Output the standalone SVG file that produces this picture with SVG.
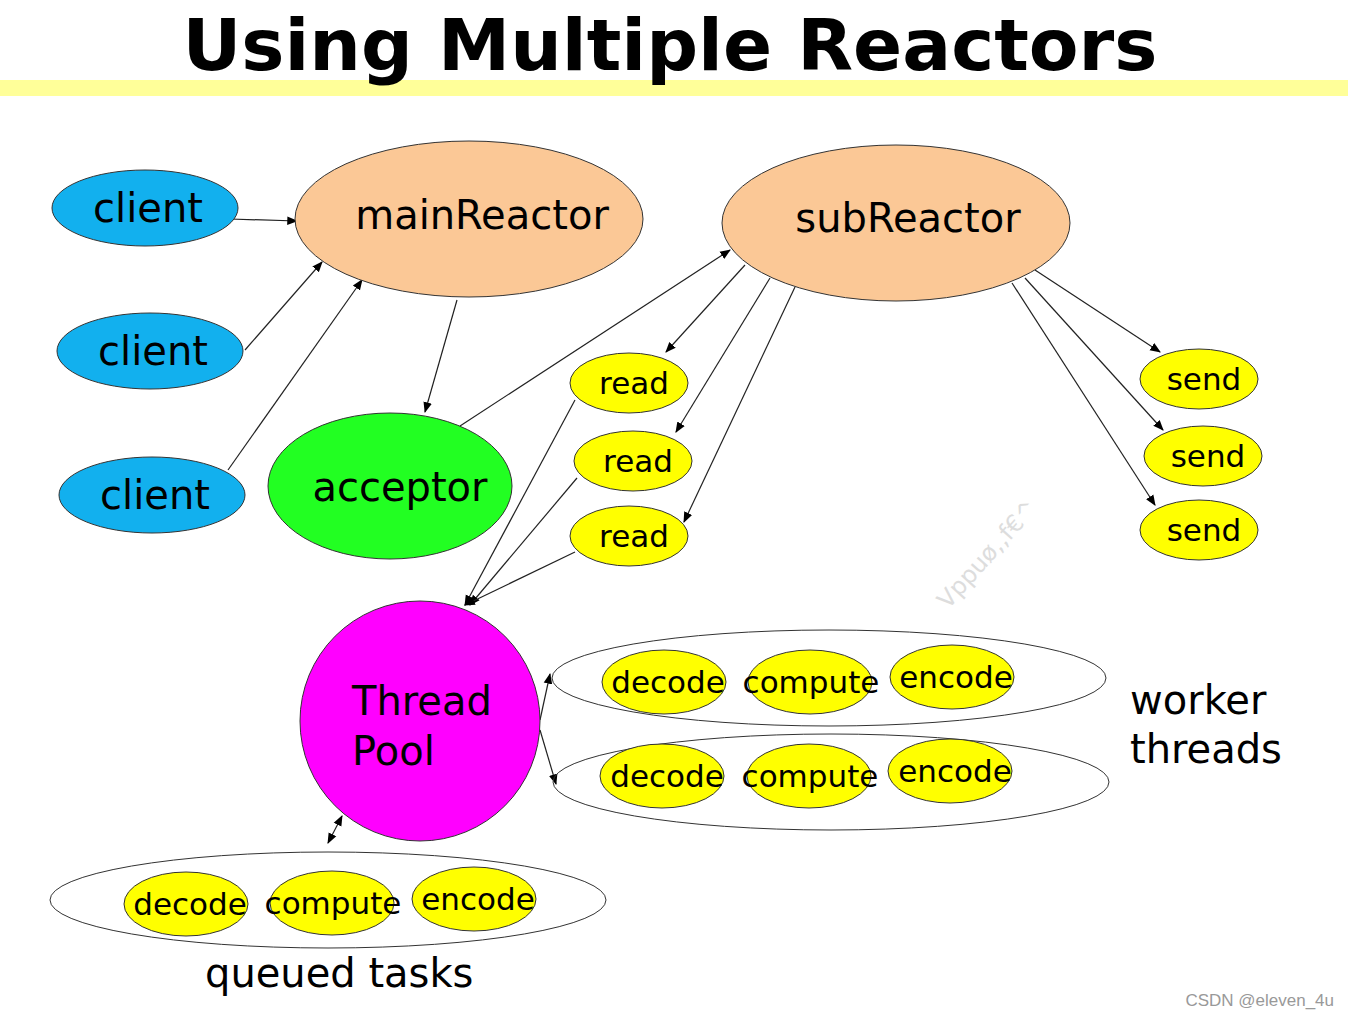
<svg xmlns="http://www.w3.org/2000/svg" width="1348" height="1018" viewBox="0 0 1348 1018">
<style>
text{font-family:"DejaVu Sans","Noto Sans",sans-serif;fill:#000}
.c{fill:#12b0ee;stroke:#333;stroke-width:1}
.r{fill:#fbc896;stroke:#333;stroke-width:1}
.y{fill:#ffff00;stroke:#333;stroke-width:1}
.o{fill:none;stroke:#333;stroke-width:1}
.l{stroke:#222;stroke-width:1.2;fill:none;marker-end:url(#a)}
.t42{font-size:40px}
.t34{font-size:31px}
</style>
<defs><marker id="a" viewBox="0 0 10 10" refX="9" refY="5" markerWidth="9" markerHeight="9" orient="auto-start-reverse"><path d="M0,1 L10,5 L0,9 z" fill="#000"/></marker></defs>
<rect width="1348" height="1018" fill="#fff"/>
<rect x="0" y="80" width="1348" height="16" fill="#ffff99"/>
<text x="670" y="70" text-anchor="middle" textLength="975" lengthAdjust="spacingAndGlyphs" style="font-size:72px;font-weight:bold">Using Multiple Reactors</text>
<g id="connectors">
<path class="l" d="M230,219 L297,221"/>
<path class="l" d="M245,350 L322,262"/>
<path class="l" d="M228,470 L362,280"/>
<path class="l" d="M457,300 L425,412"/>
<path class="l" d="M460,426 L730,250"/>
<path class="l" d="M745,265 L666,352"/>
<path class="l" d="M770,278 L676,432"/>
<path class="l" d="M795,287 L684,522"/>
<path class="l" d="M575,400 L465,605"/>
<path class="l" d="M577,478 L470,605"/>
<path class="l" d="M575,552 L465,605"/>
<path class="l" d="M1035,270 L1160,352"/>
<path class="l" d="M1025,278 L1163,430"/>
<path class="l" d="M1012,283 L1155,505"/>
<path class="l" d="M540,720 L550,674"/>
<path class="l" d="M540,730 L556,784"/>
<path class="l" style="marker-start:url(#a)" d="M328,843 L342,816"/>
</g>
<g id="client1"><ellipse class="c" cx="145" cy="208" rx="93" ry="38"/><text class="t42" x="148" y="222" text-anchor="middle">client</text></g>
<g id="client2"><ellipse class="c" cx="150" cy="351" rx="93" ry="38"/><text class="t42" x="153" y="365" text-anchor="middle">client</text></g>
<g id="client3"><ellipse class="c" cx="152" cy="495" rx="93" ry="38"/><text class="t42" x="155" y="509" text-anchor="middle">client</text></g>
<g id="mainReactor"><ellipse class="r" cx="469" cy="219" rx="174" ry="78"/><text class="t42" x="482" y="229" text-anchor="middle">mainReactor</text></g>
<g id="subReactor"><ellipse class="r" cx="896" cy="223" rx="174" ry="78"/><text class="t42" x="908" y="232" text-anchor="middle">subReactor</text></g>
<g id="acceptor"><ellipse cx="390" cy="486" rx="122" ry="73" fill="#22ff22" stroke="#333"/><text class="t42" x="400" y="501" text-anchor="middle">acceptor</text></g>
<g id="read1"><ellipse class="y" cx="629" cy="383" rx="59" ry="30"/><text class="t34" x="634" y="394" text-anchor="middle">read</text></g>
<g id="read2"><ellipse class="y" cx="633" cy="461" rx="59" ry="30"/><text class="t34" x="638" y="472" text-anchor="middle">read</text></g>
<g id="read3"><ellipse class="y" cx="629" cy="536" rx="59" ry="30"/><text class="t34" x="634" y="547" text-anchor="middle">read</text></g>
<g id="send1"><ellipse class="y" cx="1199" cy="379" rx="59" ry="30"/><text class="t34" x="1204" y="390" text-anchor="middle">send</text></g>
<g id="send2"><ellipse class="y" cx="1203" cy="456" rx="59" ry="30"/><text class="t34" x="1208" y="467" text-anchor="middle">send</text></g>
<g id="send3"><ellipse class="y" cx="1199" cy="530" rx="59" ry="30"/><text class="t34" x="1204" y="541" text-anchor="middle">send</text></g>
<g id="threadPool"><circle cx="420" cy="721" r="120" fill="#ff00ff" stroke="#333"/><text class="t42" x="352" y="715">Thread</text><text class="t42" x="352" y="765">Pool</text></g>
<g id="worker1"><ellipse class="o" cx="829" cy="678" rx="277" ry="48"/>
<ellipse class="y" cx="664" cy="682" rx="62" ry="32"/><text class="t34" x="668" y="693" text-anchor="middle">decode</text>
<ellipse class="y" cx="810" cy="682" rx="62" ry="32"/><text class="t34" x="811" y="693" text-anchor="middle">compute</text>
<ellipse class="y" cx="952" cy="677" rx="62" ry="32"/><text class="t34" x="956" y="688" text-anchor="middle">encode</text></g>
<g id="worker2"><ellipse class="o" cx="831" cy="782" rx="278" ry="48"/>
<ellipse class="y" cx="662" cy="776" rx="62" ry="32"/><text class="t34" x="667" y="787" text-anchor="middle">decode</text>
<ellipse class="y" cx="809" cy="776" rx="62" ry="32"/><text class="t34" x="810" y="787" text-anchor="middle">compute</text>
<ellipse class="y" cx="950" cy="771" rx="62" ry="32"/><text class="t34" x="955" y="782" text-anchor="middle">encode</text></g>
<g id="queue"><ellipse class="o" cx="328" cy="900" rx="278" ry="48"/>
<ellipse class="y" cx="186" cy="904" rx="62" ry="32"/><text class="t34" x="190" y="915" text-anchor="middle">decode</text>
<ellipse class="y" cx="332" cy="903" rx="62" ry="32"/><text class="t34" x="333" y="914" text-anchor="middle">compute</text>
<ellipse class="y" cx="474" cy="899" rx="62" ry="32"/><text class="t34" x="478" y="910" text-anchor="middle">encode</text></g>
<text class="t42" x="1130" y="714">worker</text>
<text class="t42" x="1130" y="763">threads</text>
<text class="t42" x="205" y="987">queued tasks</text>
<text x="0" y="0" transform="translate(948,610) rotate(-48)" style="font-size:24px;fill:#ddd">Vppuø,,f€^</text>
<text x="1334" y="1006" text-anchor="end" style="font-size:17px;fill:#999;font-family:'Liberation Sans',sans-serif">CSDN @eleven_4u</text>
</svg>
